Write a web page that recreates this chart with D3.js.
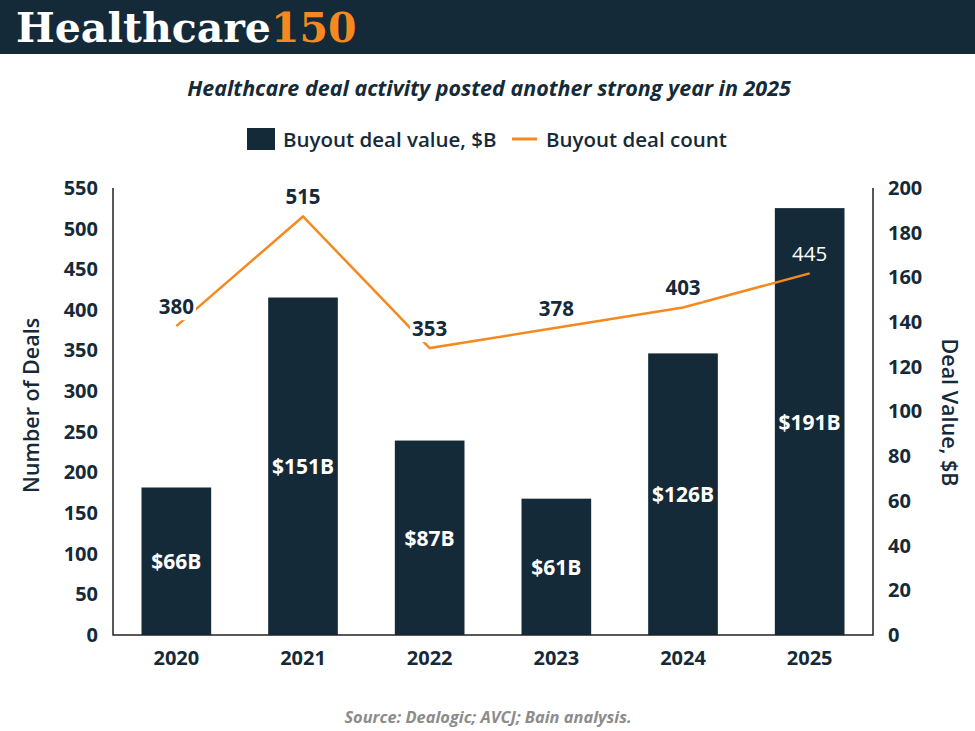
<!DOCTYPE html>
<html>
<head>
<meta charset="utf-8">
<script src="https://cdn.jsdelivr.net/npm/d3@7"></script>
<style>
  body { margin: 0; background: #fff; }
  text { font-family: "Open Sans", sans-serif; }
</style>
</head>
<body>
<div id="chart"></div>
<script>
// --- DATOS ---
const years = ["2020", "2021", "2022", "2023", "2024", "2025"];
const dealValue = [66, 151, 87, 61, 126, 191];      // $B, eje derecho
const dealCount = [380, 515, 353, 378, 403, 445];   // número de deals, eje izquierdo
const leftTicks = [0, 50, 100, 150, 200, 250, 300, 350, 400, 450, 500, 550];
const rightTicks = [0, 20, 40, 60, 80, 100, 120, 140, 160, 180, 200];

// --- CONFIGURACIÓN ---
const W = 975, H = 731;
const navy = "#152a38", orange = "#f5891f";
const plot = { left: 113, right: 873, top: 188, bottom: 635 };

const svg = d3.select("#chart").append("svg")
    .attr("width", W).attr("height", H);

// cabecera
svg.append("rect").attr("width", W).attr("height", 54).attr("fill", navy);
const brand = svg.append("text").attr("x", 16).attr("y", 42)
    .style("font-family", "'DejaVu Serif', serif")
    .style("font-weight", 700)
    .style("font-size", "41px");
brand.append("tspan").attr("fill", "#fff").text("Healthcare");
brand.append("tspan").attr("fill", orange).text("150");

svg.append("text")
    .attr("x", 489).attr("y", 87)
    .attr("text-anchor", "middle").attr("dominant-baseline", "central")
    .style("font-size", "21.5px").style("font-weight", 700).style("font-style", "italic")
    .attr("fill", navy)
    .text("Healthcare deal activity posted another strong year in 2025");

// leyenda
const legend = svg.append("g").attr("transform", "translate(0,139)");
legend.append("rect").attr("x", 247).attr("y", -11).attr("width", 28).attr("height", 22).attr("fill", navy);
legend.append("text").attr("x", 283).attr("dominant-baseline", "central")
    .style("font-size", "20.5px").style("font-weight", 600).attr("fill", navy)
    .text("Buyout deal value, $B");
legend.append("line").attr("x1", 512).attr("x2", 537).attr("stroke", orange).attr("stroke-width", 3);
legend.append("text").attr("x", 546).attr("dominant-baseline", "central")
    .style("font-size", "20.5px").style("font-weight", 600).attr("fill", navy)
    .text("Buyout deal count");

// --- ESCALAS ---
const x = d3.scaleBand().domain(years).range([plot.left, plot.right])
    .paddingInner(0.45).paddingOuter(0.225);
const yLeft = d3.scaleLinear().domain([0, 550]).range([plot.bottom, plot.top]);
const yRight = d3.scaleLinear().domain([0, 200]).range([plot.bottom, plot.top]);

// barras
svg.append("g").selectAll("rect").data(years).join("rect")
    .attr("x", d => x(d)).attr("width", x.bandwidth())
    .attr("y", (d, i) => yRight(dealValue[i]))
    .attr("height", (d, i) => plot.bottom - yRight(dealValue[i]))
    .attr("fill", navy);

svg.append("g").selectAll("text").data(years).join("text")
    .attr("x", d => x(d) + x.bandwidth() / 2)
    .attr("y", (d, i) => (yRight(dealValue[i]) + plot.bottom) / 2)
    .attr("text-anchor", "middle").attr("dominant-baseline", "central")
    .style("font-size", "21px").style("font-weight", 700).attr("fill", "#fff")
    .text((d, i) => `$${dealValue[i]}B`);

// ejes
const axisStyle = g => {
    g.select(".domain").remove();
    g.selectAll("text").style("font-size", "20px").style("font-weight", 700).attr("fill", navy);
};
svg.append("g").attr("transform", `translate(${plot.left},0)`)
    .call(d3.axisLeft(yLeft).tickValues(leftTicks).tickSize(0).tickPadding(15))
    .call(axisStyle);
svg.append("g").attr("transform", `translate(${plot.right},0)`)
    .call(d3.axisRight(yRight).tickValues(rightTicks).tickSize(0).tickPadding(15))
    .call(axisStyle);
svg.append("g").attr("transform", `translate(0,${plot.bottom})`)
    .call(d3.axisBottom(x).tickSize(0).tickPadding(16))
    .call(axisStyle);

svg.append("path")
    .attr("d", `M${plot.left},${plot.top}V${plot.bottom}H${plot.right}V${plot.top}`)
    .attr("fill", "none").attr("stroke", "#222").attr("stroke-width", 1.5);

svg.append("text")
    .attr("transform", `translate(30,${(plot.top + plot.bottom) / 2 - 6}) rotate(-90)`)
    .attr("text-anchor", "middle").attr("dominant-baseline", "central")
    .style("font-size", "21.5px").style("font-weight", 600).attr("fill", navy)
    .text("Number of Deals");
svg.append("text")
    .attr("transform", `translate(950,${(plot.top + plot.bottom) / 2 + 1}) rotate(90)`)
    .attr("text-anchor", "middle").attr("dominant-baseline", "central")
    .style("font-size", "21.5px").style("font-weight", 600).attr("fill", navy)
    .text("Deal Value, $B");

// línea
const cx = d => x(d) + x.bandwidth() / 2;
const line = d3.line().x(d => cx(d)).y((d, i) => yLeft(dealCount[i]));
svg.append("path").datum(years).attr("d", line)
    .attr("fill", "none").attr("stroke", orange).attr("stroke-width", 2.5);

// etiquetas de la línea (fondo blanco salvo la última, sobre la barra)
const labels = svg.append("g").selectAll("g").data(years).join("g")
    .attr("transform", (d, i) => `translate(${cx(d)},${yLeft(dealCount[i]) - 20})`);
labels.append("text")
    .attr("text-anchor", "middle").attr("dominant-baseline", "central")
    .style("font-size", "20.5px")
    .style("font-weight", (d, i) => i === years.length - 1 ? 400 : 700)
    .attr("fill", (d, i) => i === years.length - 1 ? "#fff" : navy)
    .text((d, i) => dealCount[i]);
labels.each(function(d, i) {
    if (i === years.length - 1) return;
    const g = d3.select(this);
    const bb = g.select("text").node().getBBox();
    g.insert("rect", "text")
        .attr("x", bb.x - 2).attr("y", bb.y)
        .attr("width", bb.width + 4).attr("height", bb.height)
        .attr("fill", "#fff");
});

// fuente
svg.append("text")
    .attr("x", 488).attr("y", 716)
    .attr("text-anchor", "middle").attr("dominant-baseline", "central")
    .style("font-size", "16.4px").style("font-weight", 700).style("font-style", "italic")
    .attr("fill", "#8c8c8c")
    .text("Source: Dealogic; AVCJ; Bain analysis.");
</script>
</body>
</html>
